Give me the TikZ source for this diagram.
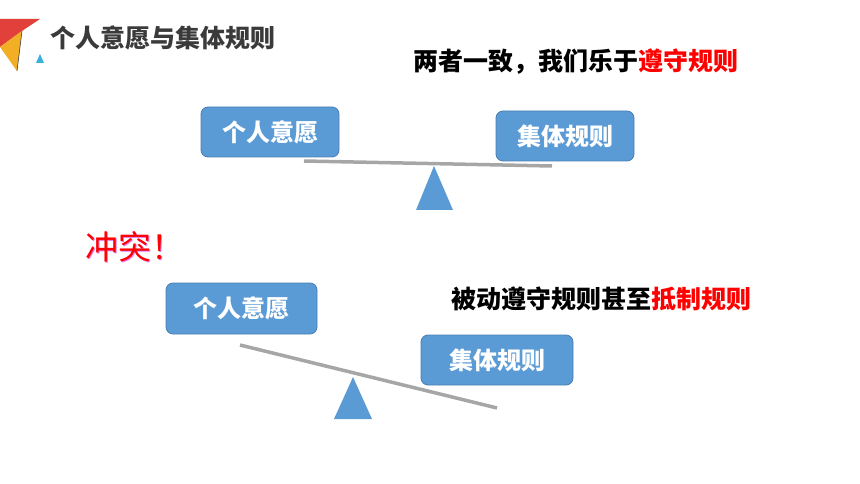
\documentclass[tikz,border=0pt]{standalone}
\usepackage{fontspec}
\newfontfamily\cjk{Noto Sans CJK SC}
\usetikzlibrary{positioning}
\definecolor{boxblue}{HTML}{5B9BD5}
\definecolor{boxline}{HTML}{4A7EB5}
\definecolor{beamgray}{HTML}{A6A6A6}
\definecolor{titlegray}{HTML}{3A3A3A}
\definecolor{logored}{HTML}{E2403A}
\definecolor{logoorange}{HTML}{F2AE25}
\definecolor{logocyan}{HTML}{3BB0D8}
\definecolor{shadowpink}{HTML}{E080F0}

\begin{document}
\begin{tikzpicture}[x=1pt, y=-1pt,
    rulebox/.style={draw=boxline, line width=0.8pt, fill=boxblue, rounded corners=7pt, text=white, font=\cjk\bfseries\fontsize{24}{24}\selectfont, inner sep=0pt},
    caption/.style={anchor=west, inner sep=0pt, font=\cjk\bfseries\fontsize{25}{25}\selectfont},
    beam/.style={draw=beamgray, line width=3.5pt},
    pivot/.style={fill=boxblue}]
    \useasboundingbox (0,0) rectangle (860,484);
    % logo
    \fill[logored] (0,19) -- (40,19) -- (22,31) -- (0,47) -- cycle;
    \fill[logoorange] (0,47) -- (22,31) -- (17,71) -- cycle;
    \draw[titlegray, line width=0.6pt] (22,31) -- (17,71);
    \fill[logocyan] (36,63) -- (40,54) -- (44,63) -- cycle;
    \node (Title) [caption, text=titlegray] at (50,38) {个人意愿与集体规则};

    % two sides agree
    \node (Agree) [caption] at (413,62) {两者一致，我们乐于\textcolor{red}{遵守规则}};
    \node (WillTop) [rulebox, minimum width=138pt, minimum height=50pt] at (270,132) {个人意愿};
    \node (RuleTop) [rulebox, minimum width=138pt, minimum height=50pt] at (565,136) {集体规则};
    \coordinate (BeamTopL) at (304,161);
    \coordinate (BeamTopR) at (552,166);
    \draw[beam] (BeamTopL) -- (BeamTopR);
    \fill[pivot] (434,166) -- (453,210) -- (416,210) -- cycle;

    % conflict
    \node (ConflictShadow) [anchor=west, inner sep=0pt, text=shadowpink, font=\cjk\fontsize{33}{33}\selectfont] at (86,248) {冲突！};
    \node (Conflict) [anchor=west, inner sep=0pt, text=red, font=\cjk\fontsize{33}{33}\selectfont] at (85,247) {冲突！};
    \node (Resist) [caption] at (451,299) {被动遵守规则甚至\textcolor{red}{抵制规则}};
    \node (WillLow) [rulebox, minimum width=151pt, minimum height=51pt] at (241.5,308.5) {个人意愿};
    \node (RuleLow) [rulebox, minimum width=152pt, minimum height=50pt] at (497,360) {集体规则};
    \coordinate (BeamLowL) at (240,345);
    \coordinate (BeamLowR) at (497,408);
    \draw[beam] (BeamLowL) -- (BeamLowR);
    \fill[pivot] (353,377) -- (372,419) -- (334,419) -- cycle;
\end{tikzpicture}
\end{document}
